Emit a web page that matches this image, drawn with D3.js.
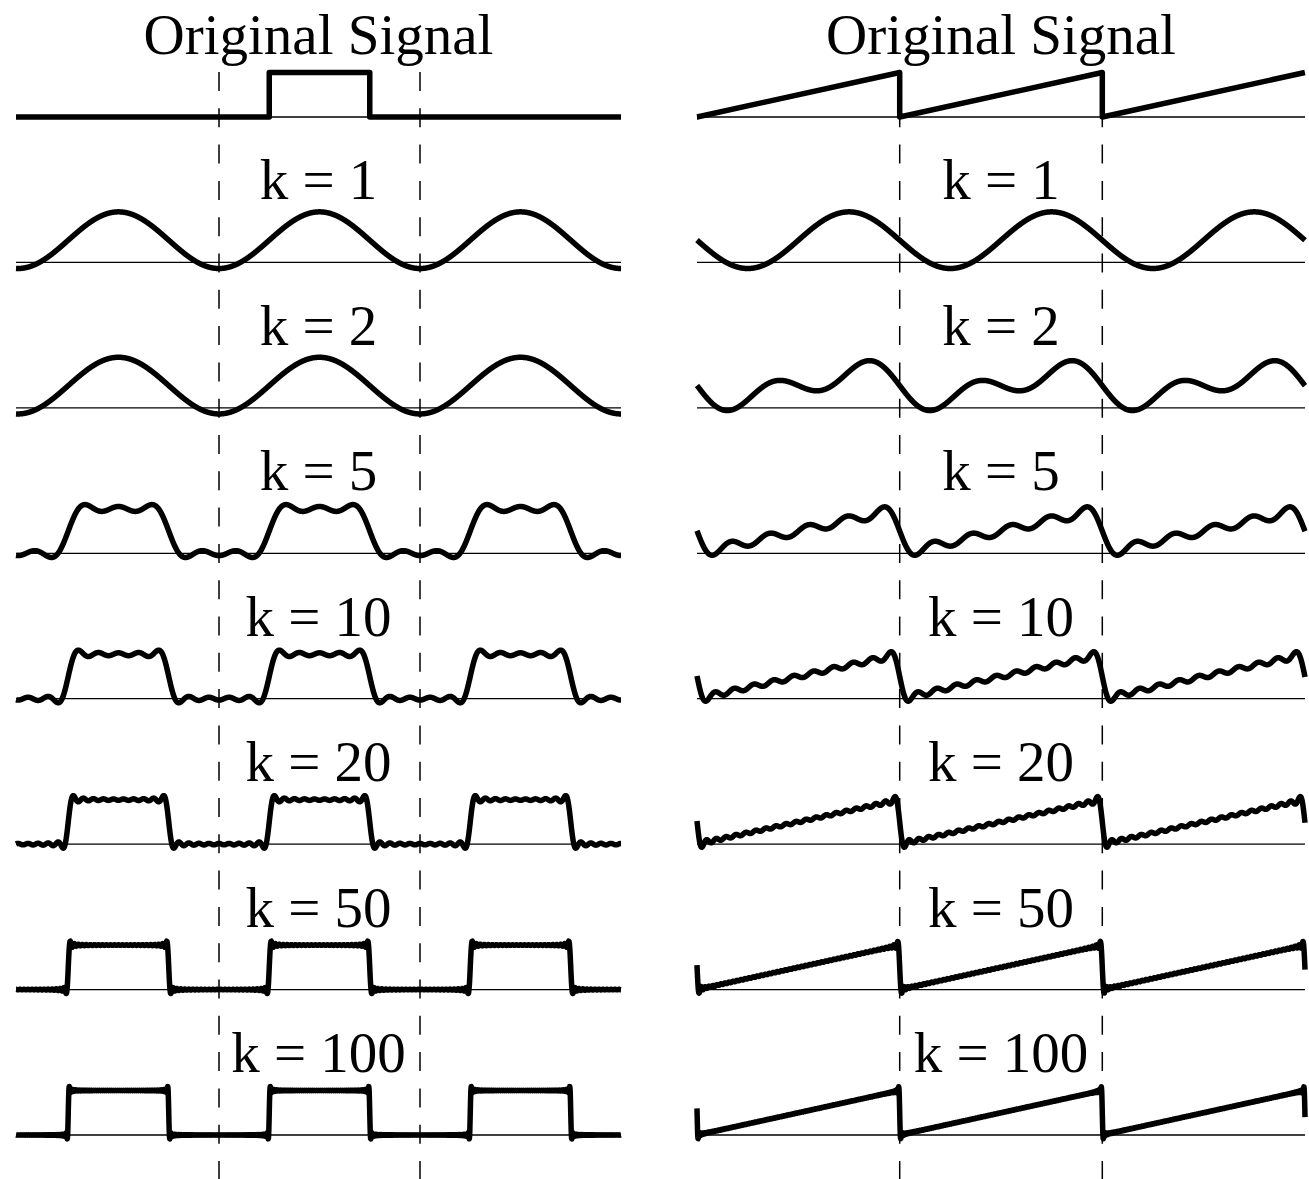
<!DOCTYPE html>
<html>
<head>
<meta charset="utf-8">
<script src="https://cdn.jsdelivr.net/npm/d3@7"></script>
<style>
  html, body { margin: 0; padding: 0; background: #fff; }
  svg { display: block; }
  .label { font-family: "Liberation Serif", "Times New Roman", serif; font-size: 57px; fill: #000; }
</style>
</head>
<body>
<svg id="fig" width="1309" height="1179"></svg>
<script>
// Row titles, top to bottom
const rowLabels = ["Original Signal", "k = 1", "k = 2", "k = 5", "k = 10", "k = 20", "k = 50", "k = 100"];
// Number of harmonics kept in each approximation row
const harmonicCounts = [1, 2, 5, 10, 20, 50, 100];
// One period of each signal as [t, value] breakpoints (t measured in periods)
const pulsePeriod = [[0, 0], [0.25, 0], [0.25, 1], [0.75, 1], [0.75, 0], [1, 0]];
const rampPeriod = [[0, 0], [1, 1], [1, 0]];
// Periods in which the original signal itself is drawn (three periods on screen)
const pulseShownPeriods = [1];
const rampShownPeriods = [0, 1, 2];
// Weight applied to the highest harmonic kept in each series
const pulseTopWeight = 1;
const rampTopWeight = 2;
// Period boundaries marked with dashed lines
const periodMarks = [1, 2];

const svg = d3.select("#fig");

// each panel: time axis pinned by the two period marks, plus its visible extent
const panels = [
  { period: pulsePeriod, shown: pulseShownPeriods, topWeight: pulseTopWeight, m1: 219, m2: 420, x0: 16, x1: 621 },
  { period: rampPeriod, shown: rampShownPeriods, topWeight: rampTopWeight, m1: 899.7, m2: 1102.3, x0: 697, x1: 1305 }
];

// vertical placement of each row's zero line, and the height of one unit
const rowY = d3.scaleLinear().domain([0, rowLabels.length - 1]).range([117, 1135]);
const unitPx = 44.5;

// value of a breakpoint signal at local time t in [0, 1)
function signalAt(bp, t) {
  for (let i = 0; i < bp.length - 1; i++) {
    const a = bp[i], b = bp[i + 1];
    if (b[0] > a[0] && t >= a[0] && t < b[0]) {
      return a[1] + (b[1] - a[1]) * (t - a[0]) / (b[0] - a[0]);
    }
  }
  return bp[bp.length - 1][1];
}

// Fourier coefficients of one period by numerical integration
function fourier(bp, nMax) {
  const M = 6000;
  const f = new Float64Array(M), ts = new Float64Array(M);
  for (let j = 0; j < M; j++) { ts[j] = (j + 0.5) / M; f[j] = signalAt(bp, ts[j]); }
  const a = new Float64Array(nMax + 1), b = new Float64Array(nMax + 1);
  a[0] = d3.mean(f);
  for (let n = 1; n <= nMax; n++) {
    let sa = 0, sb = 0;
    for (let j = 0; j < M; j++) {
      const w = 2 * Math.PI * n * ts[j];
      sa += f[j] * Math.cos(w); sb += f[j] * Math.sin(w);
    }
    a[n] = 2 * sa / M; b[n] = 2 * sb / M;
  }
  return { a, b };
}

const nMax = d3.max(harmonicCounts);
const line = d3.line().x(d => d[0]).y(d => d[1]);

panels.forEach(p => {
  const x = d3.scaleLinear().domain([1, 2]).range([p.m1, p.m2]);
  const tStart = x.invert(p.x0), tEnd = x.invert(p.x1);
  const cx = (p.x0 + p.x1) / 2;
  const coef = fourier(p.period, nMax);

  // dashed period boundaries
  svg.append("g").selectAll("line").data(periodMarks).join("line")
    .attr("x1", d => x(d)).attr("x2", d => x(d))
    .attr("y1", 72).attr("y2", 1179)
    .attr("stroke", "#000").attr("stroke-width", 1.5)
    .attr("stroke-dasharray", "19 17.3");

  rowLabels.forEach((lab, r) => {
    const y = d3.scaleLinear().domain([0, 1]).range([rowY(r), rowY(r) - unitPx]);

    // zero line
    svg.append("line")
      .attr("x1", p.x0).attr("x2", p.x1)
      .attr("y1", y(0)).attr("y2", y(0))
      .attr("stroke", "#000").attr("stroke-width", 1.3);

    // row title
    svg.append("text").attr("class", "label")
      .attr("x", cx).attr("y", rowY(r) - 63)
      .attr("text-anchor", "middle")
      .text(lab);

    let pts = [];
    if (r === 0) {
      // the original signal, built from its breakpoints
      pts.push([tStart, 0]);
      p.shown.forEach(k => p.period.forEach(([t, v]) => pts.push([k + t, v])));
      const n = pts.length;
      const atEdge = pts[n - 1][0] >= tEnd - 0.01;
      if (atEdge && pts[n - 2][0] === pts[n - 1][0]) {
        // the last ramp stops at the panel edge without its drop
        pts.pop();
      } else if (!atEdge) {
        pts.push([tEnd, pts[n - 1][1]]);
      }
    } else {
      const k = harmonicCounts[r - 1];
      const steps = Math.round((p.x1 - p.x0) * 6);
      for (let s = 0; s <= steps; s++) {
        const t = tStart + (tEnd - tStart) * s / steps;
        let v = coef.a[0];
        for (let n = 1; n <= k; n++) {
          const w = 2 * Math.PI * n * t;
          const wt = n === k ? p.topWeight : 1;
          v += wt * (coef.a[n] * Math.cos(w) + coef.b[n] * Math.sin(w));
        }
        pts.push([t, v]);
      }
    }

    svg.append("path")
      .attr("d", line(pts.map(d => [x(d[0]), y(d[1])])))
      .attr("fill", "none")
      .attr("stroke", "#000")
      .attr("stroke-width", 5.5)
      .attr("stroke-linejoin", "round");
  });
});
</script>
</body>
</html>
